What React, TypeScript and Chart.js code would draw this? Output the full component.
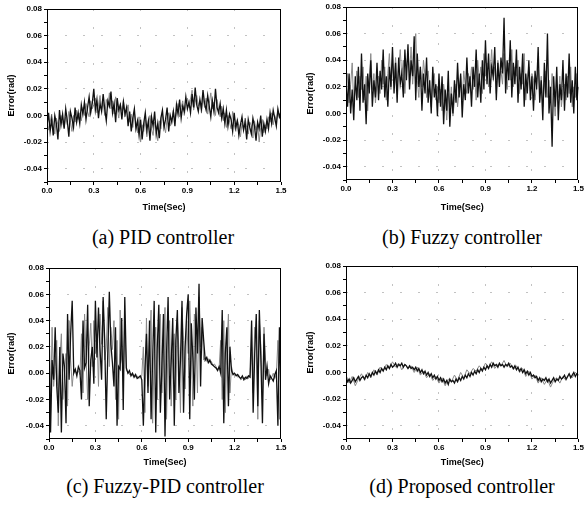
import React, { useEffect, useRef } from "react";
import { Chart, registerables } from "chart.js";

Chart.register(...registerables);

// Tracking error samples in mrad, evenly sampled over 0 .. 1.5 s.
const pidMain = [
  -8, 2, -12, -3, -15, 0, -6, -18, 4, -7, 1,
  -10, 5, -4, -16, 3, -2, -9, 6, -5, 2,
  -6, 8, 1, 10, -3, 6, 14, 2, 9, 20,
  4, 12, -2, 9, 3, 16, 5, -4, 11, 7,
  18, 2, 9, -5, 13, 4, 8, -3, 10, 1,
  6, -8, 3, -12, -2, 5, -10, -4, -15, -3,
  -18, -6, 2, -11, -4, -19, -1, -8, 3, -14,
  -6, -17, -2, 4, -9, -3, 6, -12, 0, -5,
  3, -8, 8, 1, 12, -2, 7, 3, 14, 5,
  10, 2, 16, 6, 21, 8, 3, 12, 5, 19,
  9, 4, 15, 7, -1, 11, 3, 20, 6, 2,
  9, -2, 5, -6, 4, -8, 1, -3, -12, 2,
  -9, -4, -15, -7, -1, -11, -5, -18, -3, -9,
  -14, -2, -8, -19, -5, -10, 0, -16, -6, -12,
  -3, -10, 2, -6, 4, -2, -8, 5, -1, 3,
];
const pidTrace = [
  -3, -11, -5, 1, -9, -14, -2, -7, -12, 0, -6,
  -9, -1, -7, 3, -4, -12, 0, -5, 4, -3,
  2, -4, 6, 0, 9, 3, -1, 11, 5, 8,
  13, 2, 8, 15, 4, 10, 0, 12, 6, 17,
  5, 11, 1, 14, 6, -2, 9, 3, 12, -1,
  3, 8, -5, 1, -9, 2, -6, -13, -1, -20,
  -7, -12, -3, -16, -8, 0, -10, -15, -5, -9,
  -19, -4, -10, 1, -7, -13, -2, 2, -8, -3,
  4, -4, 2, 9, -1, 6, 11, 0, 8, 13,
  6, 12, 19, 4, 10, 15, 7, 11, 2, 14,
  6, 13, 1, 9, 17, 5, 10, 0, 12, 4,
  -1, 7, -4, 2, -9, 0, -5, -10, 3, -7,
  -12, -3, -8, -16, -6, -11, -2, -9, -14, -5,
  -8, -17, -4, -11, -6, -20, -9, -3, -13, -7,
  -10, -1, -5, 2, -7, 0, -4, 3, -2, 1,
];

const fuzzyMain = [
  25, 5, 30, 0, 18, -5, 28, 10, 35, 2, 45,
  8, 22, -8, 30, 15, 40, 5, 25, 12, 38,
  10, 32, 18, 48, 12, 28, 5, 35, 20, 50,
  15, 38, 8, 42, 22, 30, 12, 48, 25, 52,
  18, 40, 28, 58, 10, 45, 20, 35, 2, 30,
  15, 42, 8, 25, 0, 35, 12, 22, -2, 30,
  5, 28, -8, 18, 2, 32, -10, 15, 0, 25,
  8, 38, 12, 30, -3, 22, 10, 42, 15, 28,
  5, 35, 20, 48, 12, 30, 8, 40, 18, 55,
  22, 45, 15, 35, 28, 50, 10, 38, 20, 42,
  30, 72, 15, 40, 25, 55, 12, 38, 22, 48,
  8, 35, 18, 45, 5, 30, 15, 40, 10, 28,
  2, 32, 18, 50, 8, 25, -5, 38, 12, 60,
  0, 20, -25, 28, 5, 35, -5, 22, 10, 40,
  2, 30, 12, 45, 8, 25, 0, 35, 10, 20,
];
const fuzzyTrace = [
  15, 30, 8, 22, 38, 5, 20, 32, 12, 28, 18,
  35, 10, 28, 2, 25, 45, 18, 30, 8, 22,
  28, 15, 40, 22, 35, 10, 30, 45, 18, 38,
  25, 42, 20, 35, 48, 28, 40, 15, 35, 45,
  30, 50, 22, 38, 60, 25, 12, 35, 20, 40,
  28, 12, 32, 18, 5, 25, 30, 10, 20, 8,
  18, 2, 22, 12, -5, 15, 5, 20, -2, 10,
  22, 5, 18, 28, 10, 32, 20, 15, 30, 22,
  35, 18, 28, 10, 40, 25, 35, 15, 45, 28,
  38, 20, 30, 48, 25, 35, 15, 40, 28, 32,
  22, 45, 30, 18, 38, 25, 48, 20, 35, 28,
  40, 15, 30, 22, 45, 10, 25, 35, 18, 30,
  25, 10, 22, 35, 15, 28, 5, 20, 32, 12,
  25, 8, 30, 15, -2, 22, 12, 28, 5, 18,
  22, 10, 28, 15, 35, 5, 20, 12, 30, 18,
];

const fuzzyPidMain = [
  40, -45, 10, -5, 35, -10, -30, 20, -45, 15, 5,
  -38, 45, -5, 30, 55, 0, 3, -2, 5, 2,
  -20, 40, 4, 8, 52, -25, 10, 20, -8, 55,
  12, 50, 18, -5, 58, 25, -35, 15, 62, 22,
  8, -10, 35, -40, 5, 3, 42, -28, 58, 4,
  0, 2, -2, 0, -3, -1, -4, -3, -2, -5,
  -40, 2, 30, -15, 40, -35, 10, 55, -45, 20,
  52, -30, 5, 45, -48, 15, 58, -20, 8, 42,
  -40, 25, 48, -15, 10, 55, -30, 20, 45, 60,
  -35, 38, 12, -20, 50, 15, 68, -10, 42, 25,
  10, 12, 8, 10, 7, 6, 5, 4, 2, 5,
  0, 48, -38, 15, 35, -25, 20, 2, -1, 0,
  -2, -1, -3, -4, -2, -5, -3, -4, -2, -3,
  40, -30, 15, 45, -25, 48, 10, -38, 30, -5,
  5, -8, -2, -4, -6, -1, 2, -40, 35, -20,
];
const fuzzyPidTrace = [
  20, -30, 35, -10, 5, 25, -40, 10, 30, -20, 0,
  15, -25, 40, 10, -10, 3, 1, 0, 2, -1,
  30, -15, 45, 12, -20, 20, 38, 5, 40, 15,
  30, -10, 45, 22, 55, 10, 20, 50, 5, 35,
  18, 40, -20, 25, -35, 48, 10, 4, 40, 2,
  1, -1, 0, -2, -1, -3, -2, -4, -3, -2,
  20, -30, 42, -10, 25, 48, -38, 15, 35, -20,
  30, 45, -15, 20, 50, -35, 28, 40, -25, 15,
  30, -20, 42, 18, -30, 50, 25, -12, 40, 15,
  55, 20, -25, 45, 30, -15, 58, 20, 35, 10,
  12, 9, 11, 8, 9, 6, 7, 5, 3, 4,
  25, -20, 40, -30, 20, 45, -15, 5, 0, -2,
  -1, -3, -2, -5, -4, -3, -5, -2, -4, -1,
  20, -15, 35, 25, -35, 40, 20, -20, 35, 10,
  -2, 3, -5, -3, 0, -4, -1, 25, -35, 5,
];

const proposedMain = [
  -4, -7, -5, -8, -6, -4, -7, -5, -3, -6, -4,
  -3, -5, -2, -4, -1, -3, 0, -2, 1, -1,
  2, 0, 3, 1, 4, 2, 5, 3, 6, 4,
  5, 7, 4, 6, 5, 7, 4, 6, 5, 3,
  5, 3, 4, 2, 4, 1, 3, 0, 2, -1,
  1, -2, 0, -3, -1, -4, -2, -5, -3, -6,
  -4, -7, -5, -8, -6, -9, -5, -7, -6, -8,
  -5, -7, -4, -6, -3, -5, -2, -4, -1, -3,
  0, -2, 1, -1, 2, 0, 3, 1, 4, 2,
  5, 3, 6, 4, 7, 5, 6, 4, 7, 5,
  6, 4, 6, 5, 7, 4, 5, 3, 5, 2,
  4, 1, 3, 0, 2, -1, 1, -2, 0, -3,
  -2, -4, -3, -6, -4, -7, -5, -6, -4, -7,
  -5, -8, -6, -4, -7, -5, -6, -3, -5, -4,
  -2, -5, -3, -1, -4, -2, 0, -3, -1, -2,
];
const proposedTrace = [
  -2, -8, -3, -10, -5, -1, -6, 0, -4, 2,
  -2, 4, 1, 6, 3, 8, 4, 7, 2, 6,
  3, 5, 0, 4, -2, 1, -4, -1, -6, -3,
  -8, -4, -10, -5, -7, -2, -6, 0, -4, 2,
  -1, 3, 1, 5, 2, 7, 4, 8, 3, 6,
  5, 9, 4, 7, 2, 5, 0, 3, -3, 1,
  -5, -2, -8, -4, -9, -5, -11, -6, -4, -8,
  -3, -6, -1, -4, 0, -2,
];

const T_END = 1.5;
const Y_MIN = -0.05;
const Y_MAX = 0.08;

const toPoints = (mrad: number[]) =>
  mrad.map((v, i) => ({ x: (i * T_END) / (mrad.length - 1), y: v / 1000 }));

const SANS = "'Liberation Sans', Arial, sans-serif";

const framePlugin = {
  id: "frame",
  afterDatasetsDraw(chart: any) {
    const { ctx, chartArea } = chart;
    const { left, top, right, bottom } = chartArea;
    ctx.save();
    ctx.strokeStyle = "#000";
    ctx.lineWidth = 1;
    ctx.strokeRect(Math.round(left) + 0.5, Math.round(top) + 0.5, Math.round(right - left) - 1, Math.round(bottom - top) - 1);
    ctx.restore();
  },
};

type PanelProps = {
  main: number[];
  trace: number[];
  left: number;
  top: number;
  width: number;
  height: number;
  padTop: number;
  padRight: number;
  yWidth: number;
  xHeight: number;
  yTitleGap: number;
};

function Panel(p: PanelProps) {
  const ref = useRef<HTMLCanvasElement>(null);
  useEffect(() => {
    if (!ref.current) return;
    const gridColor = "rgba(120,120,120,0.45)";
    const clear = "rgba(0,0,0,0)";
    const chart = new Chart(ref.current, {
      type: "line",
      data: {
        datasets: [
          {
            data: toPoints(p.main),
            borderColor: "#111",
            borderWidth: 1.3,
            pointRadius: 0,
            tension: 0,
          },
          {
            data: toPoints(p.trace),
            borderColor: "#8a8a8a",
            borderWidth: 1,
            pointRadius: 0,
            tension: 0,
          },
        ],
      },
      options: {
        animation: false,
        responsive: false,
        events: [],
        layout: { padding: { top: p.padTop, right: p.padRight, left: 0, bottom: 0 } },
        plugins: { legend: { display: false }, tooltip: { enabled: false } },
        scales: {
          x: {
            type: "linear",
            min: 0,
            max: T_END,
            afterFit: (s: any) => {
              s.height = p.xHeight;
            },
            ticks: {
              stepSize: 0.15,
              autoSkip: false,
              maxRotation: 0,
              padding: 1,
              color: "#000",
              font: { family: SANS, size: 8, weight: "bold" },
              callback: (v: any) => {
                const k = Math.round(Number(v) / 0.15);
                return k % 2 === 0 ? (k * 0.15).toFixed(1) : "";
              },
            },
            grid: {
              color: (c: any) => {
                const k = Math.round(Number(c.tick?.value) / 0.15);
                return k % 2 === 0 && k > 0 && k < 10 ? gridColor : clear;
              },
              tickColor: "#000",
              tickLength: 3,
            },
            border: { display: false, dash: [2, 16] },
            title: {
              display: true,
              text: "Time(Sec)",
              color: "#000",
              padding: { top: 0, bottom: 2 },
              font: { family: SANS, size: 9, weight: "bold" },
            },
          },
          y: {
            type: "linear",
            min: Y_MIN,
            max: Y_MAX,
            afterFit: (s: any) => {
              s.width = p.yWidth;
            },
            ticks: {
              stepSize: 0.01,
              autoSkip: false,
              padding: 2,
              color: "#000",
              font: { family: SANS, size: 8, weight: "bold" },
              callback: (v: any) => {
                const k = Math.round(Number(v) * 100);
                return k % 2 === 0 ? (k / 100).toFixed(2) : "";
              },
            },
            grid: {
              color: (c: any) => {
                const k = Math.round(Number(c.tick?.value) * 100);
                return k % 2 === 0 && k !== 0 && k < 8 ? gridColor : clear;
              },
              tickColor: "#000",
              tickLength: 3,
            },
            border: { display: false, dash: [2, 16] },
            title: {
              display: true,
              text: "Error(rad)",
              color: "#000",
              padding: { top: p.yTitleGap, bottom: 2 },
              font: { family: SANS, size: 9, weight: "bold" },
            },
          },
        },
      },
      plugins: [framePlugin],
    } as any);
    return () => chart.destroy();
  }, []);
  return (
    <canvas
      ref={ref}
      width={p.width}
      height={p.height}
      style={{ position: "absolute", left: p.left, top: p.top, width: p.width, height: p.height }}
    />
  );
}

const captionStyle = (cx: number, cy: number): React.CSSProperties => ({
  position: "absolute",
  left: cx,
  top: cy,
  transform: "translate(-50%, -50%)",
  fontFamily: "'Liberation Serif', 'Times New Roman', serif",
  fontSize: 20,
  whiteSpace: "nowrap",
  color: "#000",
  lineHeight: "22px",
});

export default function App() {
  return (
    <div style={{ position: "absolute", left: 0, top: 0, width: 585, height: 511, background: "#fff", overflow: "hidden" }}>
      <Panel main={pidMain} trace={pidTrace} left={0} top={0} width={290} height={215} padTop={9} padRight={9} yWidth={47} xHeight={33} yTitleGap={6} />
      <Panel main={fuzzyMain} trace={fuzzyTrace} left={292} top={0} width={293} height={215} padTop={7} padRight={6} yWidth={54} xHeight={35} yTitleGap={13} />
      <Panel main={fuzzyPidMain} trace={fuzzyPidTrace} left={0} top={255} width={290} height={215} padTop={13} padRight={9} yWidth={49} xHeight={31} yTitleGap={6} />
      <Panel main={proposedMain} trace={proposedTrace} left={292} top={255} width={293} height={215} padTop={11} padRight={6} yWidth={54} xHeight={31} yTitleGap={13} />
      <div style={captionStyle(163, 237)}>(a) PID controller</div>
      <div style={captionStyle(462, 237)}>(b) Fuzzy controller</div>
      <div style={captionStyle(165, 486)}>(c) Fuzzy-PID controller</div>
      <div style={captionStyle(462, 486)}>(d) Proposed controller</div>
    </div>
  );
}
